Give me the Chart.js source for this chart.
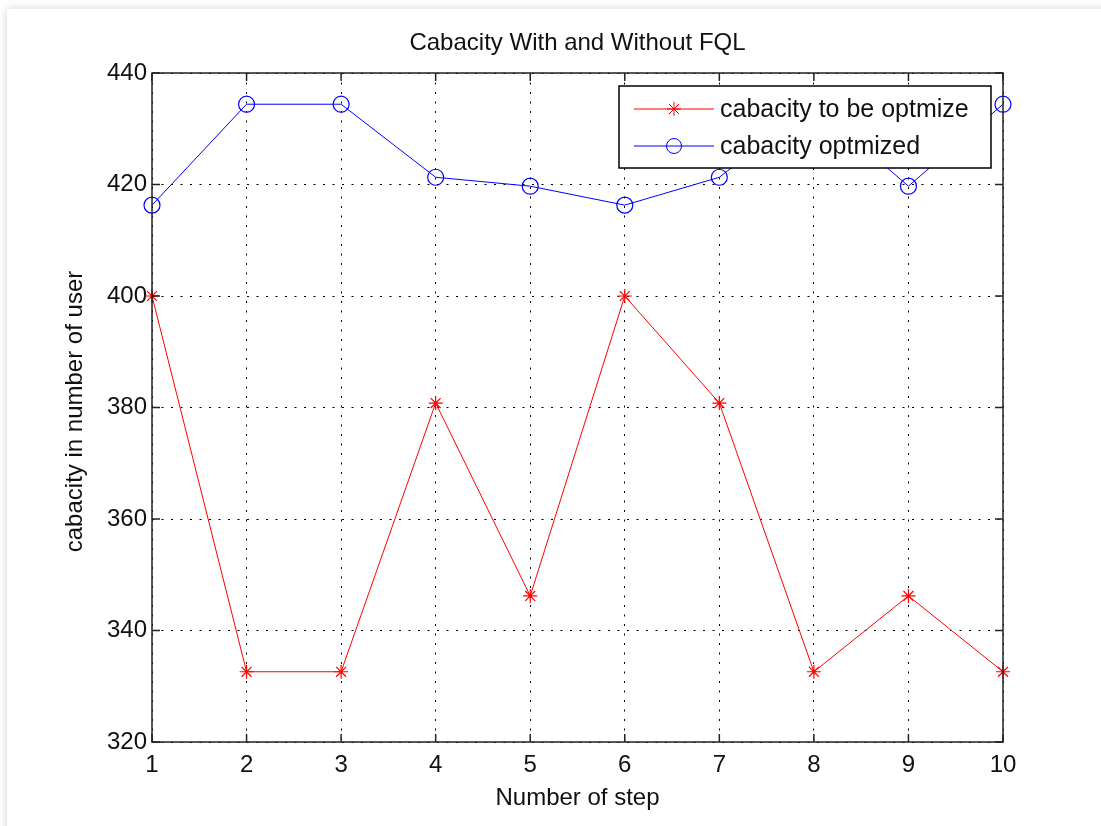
<!DOCTYPE html>
<html>
<head>
<meta charset="utf-8">
<script src="https://cdn.jsdelivr.net/npm/chart.js@4.4.0/dist/chart.umd.min.js"></script>
<style>
  html, body { margin: 0; padding: 0; background: #fff; overflow: hidden; }
  .card { position: absolute; left: 7px; top: 9px; width: 1200px; height: 900px;
          background: #fff; box-shadow: 0 0 9px rgba(0,0,0,0.18); }
  #chart { position: absolute; left: 0; top: 0; }
</style>
</head>
<body>
<div class="card"></div>
<canvas id="chart" width="1101" height="826"></canvas>
<script>
// values
const steps = [1, 2, 3, 4, 5, 6, 7, 8, 9, 10];
const toBeOptimized = [400, 332.6, 332.6, 380.8, 346.2, 400, 380.8, 332.6, 346.2, 332.6];
const optimized = [416.3, 434.4, 434.4, 421.3, 419.7, 416.3, 421.3, 434.4, 419.7, 434.4];
const yTicks = [320, 340, 360, 380, 400, 420, 440];
const seriesNames = ["cabacity to be optmize", "cabacity optmized"];

const FONT = '"Liberation Sans", Arial, sans-serif';

const points = (ys) => steps.map((x, i) => ({ x: x, y: ys[i] }));

// frame, inward ticks, titles and legend like a matlab figure
const matlabFrame = {
  id: "matlabFrame",
  afterDatasetsDraw(chart) {
    const { ctx, chartArea: a, scales } = chart;
    ctx.save();
    ctx.strokeStyle = "#222";
    ctx.lineWidth = 1.5;
    ctx.strokeRect(a.left, a.top, a.right - a.left, a.bottom - a.top);

    ctx.beginPath();
    steps.forEach((s) => {
      const px = scales.x.getPixelForValue(s);
      ctx.moveTo(px, a.bottom); ctx.lineTo(px, a.bottom - 8);
      ctx.moveTo(px, a.top); ctx.lineTo(px, a.top + 8);
    });
    yTicks.forEach((v) => {
      const py = scales.y.getPixelForValue(v);
      ctx.moveTo(a.left, py); ctx.lineTo(a.left + 8, py);
      ctx.moveTo(a.right, py); ctx.lineTo(a.right - 8, py);
    });
    ctx.stroke();

    // titles
    ctx.fillStyle = "#111";
    ctx.textAlign = "center";
    ctx.textBaseline = "middle";
    ctx.font = "24px " + FONT;
    ctx.fillText("Cabacity With and Without FQL", (a.left + a.right) / 2, 43);
    ctx.font = "24px " + FONT;
    ctx.fillText("Number of step", (a.left + a.right) / 2, 798);
    ctx.save();
    ctx.translate(75, (a.top + a.bottom) / 2 + 4);
    ctx.rotate(-Math.PI / 2);
    ctx.fillText("cabacity in number of user", 0, 0);
    ctx.restore();

    // legend box
    const lx = 619, ly = 86, lw = 372, lh = 82;
    ctx.fillStyle = "#fff";
    ctx.fillRect(lx, ly, lw, lh);
    ctx.strokeStyle = "#000";
    ctx.lineWidth = 1.5;
    ctx.strokeRect(lx, ly, lw, lh);

    const rows = [
      { y: ly + 23, color: "#ff0000", style: "star" },
      { y: ly + 60, color: "#0000ff", style: "circle" }
    ];
    ctx.font = "25px " + FONT;
    ctx.textAlign = "left";
    rows.forEach((r, i) => {
      ctx.strokeStyle = r.color;
      ctx.lineWidth = 1;
      ctx.beginPath();
      ctx.moveTo(lx + 15, r.y); ctx.lineTo(lx + 95, r.y);
      ctx.stroke();
      ctx.fillStyle = "rgba(0,0,0,0)";
      Chart.helpers.drawPoint(ctx, {
        pointStyle: r.style,
        radius: r.style === "star" ? 7 : 7.5,
        borderWidth: 1.2
      }, lx + 55, r.y);
      ctx.fillStyle = "#111";
      ctx.fillText(seriesNames[i], lx + 101, r.y + 1);
    });
    ctx.restore();
  }
};

new Chart(document.getElementById("chart"), {
  type: "line",
  data: {
    datasets: [
      {
        label: seriesNames[0],
        data: points(toBeOptimized),
        borderColor: "#ff0000",
        backgroundColor: "transparent",
        borderWidth: 1,
        pointStyle: "star",
        pointRadius: 7,
        pointBorderWidth: 1.2,
        pointBorderColor: "#ff0000",
        tension: 0
      },
      {
        label: seriesNames[1],
        data: points(optimized),
        borderColor: "#0000ff",
        backgroundColor: "transparent",
        borderWidth: 1,
        pointStyle: "circle",
        pointRadius: 8,
        pointBorderWidth: 1.2,
        pointBorderColor: "#0000ff",
        pointBackgroundColor: "transparent",
        tension: 0
      }
    ]
  },
  options: {
    responsive: false,
    animation: false,
    clip: false,
    layout: { padding: { left: 0, right: 98, top: 73, bottom: 0 } },
    plugins: {
      legend: { display: false },
      title: { display: false },
      tooltip: { enabled: false }
    },
    scales: {
      x: {
        type: "linear",
        min: 1,
        max: 10,
        afterFit: (s) => { s.height = 84; },
        afterBuildTicks: (s) => { s.ticks = steps.map((v) => ({ value: v })); },
        ticks: { color: "#111", font: { family: FONT, size: 24 }, padding: 9, maxRotation: 0 },
        grid: { color: "#000", lineWidth: 1, drawTicks: false },
        border: { display: false, dash: [2, 7.5] }
      },
      y: {
        min: 320,
        max: 440,
        afterFit: (s) => { s.width = 152; },
        afterBuildTicks: (s) => { s.ticks = yTicks.map((v) => ({ value: v })); },
        ticks: { color: "#111", font: { family: FONT, size: 24 }, padding: 5 },
        grid: { color: "#000", lineWidth: 1, drawTicks: false },
        border: { display: false, dash: [2, 7.5] }
      }
    }
  },
  plugins: [matlabFrame]
});
</script>
</body>
</html>
